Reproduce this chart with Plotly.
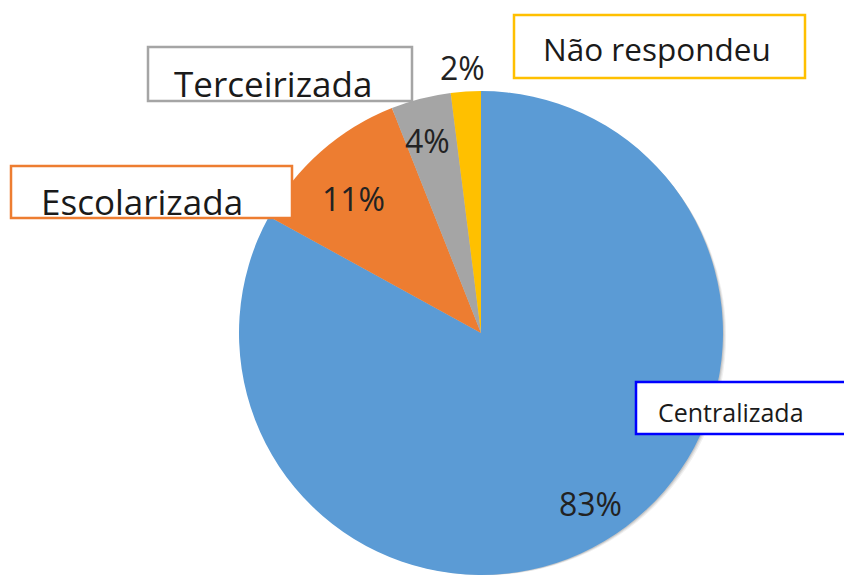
import math
import plotly.graph_objects as go

categories = ["Centralizada", "Escolarizada", "Terceirizada", "Não respondeu"]
values = [83, 11, 4, 2]
colors = ["#5B9BD5", "#ED7D31", "#A5A5A5", "#FFC000"]
box_colors = ["#0000FF", "#ED7D31", "#A5A5A5", "#FFC000"]
label_radius = [0.82, 0.74, 0.82, 1.10]  # radial position of the % labels (fraction of radius)

W, H = 844, 575


def px(x):
    return x / W


def py(y):
    return 1 - y / H


cx, cy, r = 481, 333, 242
sx = 1.08  # horizontal spread of the % labels

fig = go.Figure()

# soft shadow
for off, alpha in [(6, 0.06), (4, 0.08), (2, 0.10)]:
    fig.add_trace(go.Pie(
        values=[1], labels=["shadow"], marker=dict(colors=[f"rgba(0,0,0,{alpha})"], line=dict(width=0)),
        textinfo="none", hoverinfo="skip", sort=False, showlegend=False,
        domain=dict(x=[px(cx - r + off), px(cx + r + off)], y=[0, py(cy - r + off)]),
    ))

fig.add_trace(go.Pie(
    labels=categories, values=values, sort=False, direction="clockwise", rotation=0,
    marker=dict(colors=colors, line=dict(width=0)),
    textinfo="none", hoverinfo="label+percent",
    showlegend=False,
    domain=dict(x=[px(cx - r), px(cx + r)], y=[0, py(cy - r)]),
))

# percentage labels placed at each slice's mid-angle
total = sum(values)
start = 0.0
for v, fr in zip(values, label_radius):
    mid = math.radians((start + v / 2) / total * 360)
    start += v
    lx = cx + sx * fr * r * math.sin(mid)
    ly = cy - fr * r * math.cos(mid)
    fig.add_annotation(text=f"{round(v / total * 100)}%", xref="paper", yref="paper",
                       x=px(lx), y=py(ly), xanchor="center", yanchor="middle", showarrow=False,
                       font=dict(family="Open Sans", size=32, color="#222222"))

# label boxes
boxes = [
    ("Não respondeu", 514, 15, 805, 78),
    ("Terceirizada", 148, 47, 412, 101),
    ("Escolarizada", 11, 166, 292, 218),
    ("Centralizada", 636, 382, 880, 434),
]
for txt, x0, y0, x1, y1 in boxes:
    bc = box_colors[categories.index(txt)]
    fig.add_shape(type="rect", xref="paper", yref="paper",
                  x0=px(x0), x1=px(x1), y0=py(y0), y1=py(y1),
                  line=dict(color=bc, width=2.5), fillcolor="white", layer="above")

ann = [
    ("Não respondeu", 657, 48, 31.5, "center"),
    ("Terceirizada", 273, 84, 35, "center"),
    ("Escolarizada", 39, 202, 35, "left"),
    ("Centralizada", 656, 412, 25, "left"),
]
for txt, x, y, fs, xa in ann:
    fig.add_annotation(text=txt, xref="paper", yref="paper", x=px(x), y=py(y),
                       xanchor=xa, yanchor="middle", showarrow=False,
                       font=dict(family="Open Sans", size=fs, color="#1a1a1a"))

fig.update_layout(width=W, height=H, margin=dict(l=0, r=0, t=0, b=0),
                  paper_bgcolor="white", plot_bgcolor="white")
fig.write_html("out.html", config={"displayModeBar": False},
               post_script="document.body.style.margin='0';document.body.style.overflow='hidden';")
